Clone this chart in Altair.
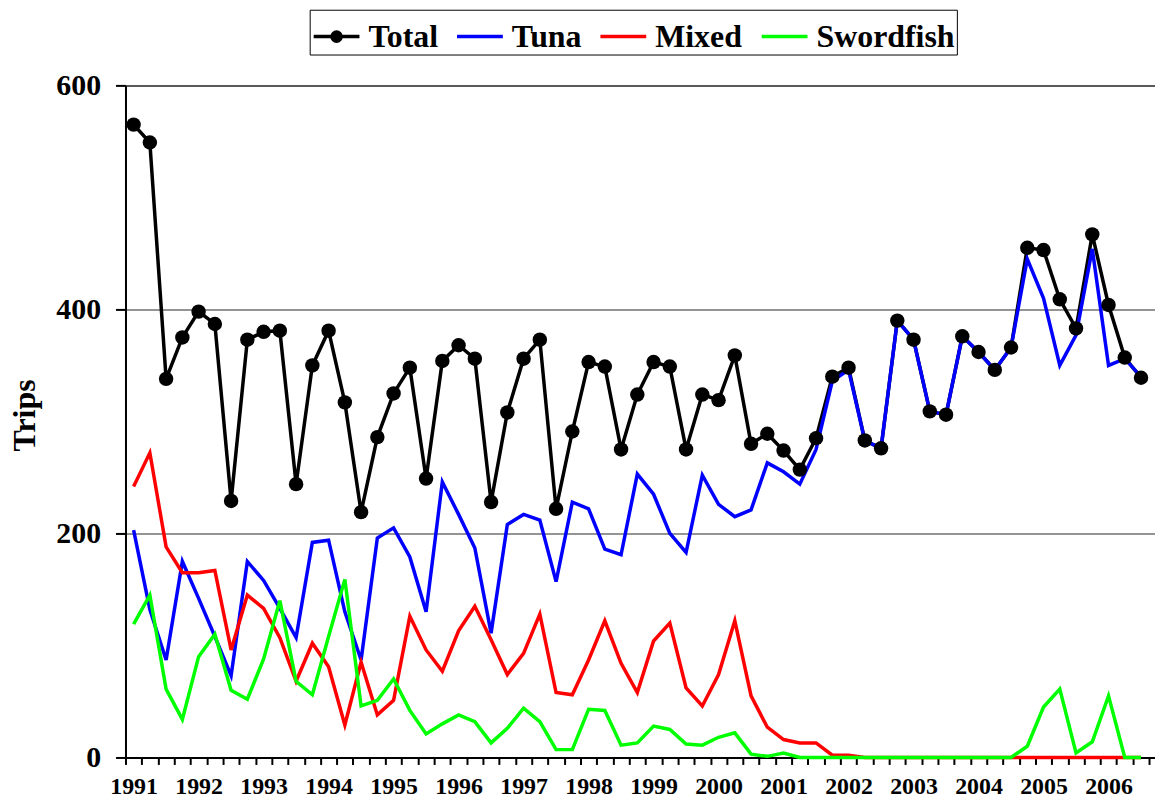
import altair as alt
import pandas as pd

# ---- data (quarterly, 1991 Q1 .. 2006 Q3) ----
years = ["1991", "1992", "1993", "1994", "1995", "1996", "1997", "1998",
         "1999", "2000", "2001", "2002", "2003", "2004", "2005", "2006"]

total = [565, 549, 338, 375, 398, 387, 229, 373, 380, 381, 244, 350,
         381, 317, 219, 286, 325, 348, 249, 354, 368, 356, 228, 308,
         356, 373, 222, 291, 353, 349, 275, 324, 353, 349, 275, 324,
         319, 359, 280, 289, 274, 257, 285, 340, 348, 283, 276, 390,
         373, 309, 306, 376, 362, 346, 366, 455, 453, 409, 383, 467,
         404, 357, 339]

tuna = [203, 132, 87, 175, 142, 108, 73, 175, 158, 133, 107, 192,
        194, 130, 87, 196, 205, 179, 130, 246, 217, 187, 111, 208,
        217, 212, 157, 228, 222, 186, 181, 253, 235, 200, 183, 252,
        226, 215, 221, 263, 255, 244, 275, 336, 346, 283, 276, 390,
        373, 309, 306, 376, 362, 346, 366, 445, 410, 350, 377, 454,
        350, 356, 340]

mixed = [242, 272, 188, 165, 165, 167, 96, 145, 133, 107, 68, 102,
         81, 29, 85, 38, 51, 126, 96, 77, 113, 135, 105, 74,
         93, 128, 58, 56, 87, 122, 84, 58, 104, 120, 62, 46,
         74, 122, 55, 27, 16, 13, 13, 2, 2, 0, 0, 0,
         0, 0, 0, 0, 0, 0, 0, 0, 0, 0, 0, 0,
         0, 0, 0]

swordfish = [119, 145, 61, 34, 90, 110, 60, 52, 88, 140, 68, 56,
             108, 159, 46, 51, 70, 42, 21, 30, 38, 32, 13, 26,
             44, 32, 7, 7, 43, 42, 11, 13, 28, 25, 12, 11,
             18, 22, 3, 1, 4, 0, 0, 0, 0, 0, 0, 0,
             0, 0, 0, 0, 0, 0, 0, 10, 45, 61, 4, 14,
             55, 0, 0]

series_names = ["Total", "Tuna", "Mixed", "Swordfish"]
series_colors = ["#000000", "#0000ff", "#ff0000", "#00ff00"]
y_ticks = [0, 200, 400, 600]

rows = []
for name, vals in zip(series_names, [total, tuna, mixed, swordfish]):
    for i, v in enumerate(vals):
        rows.append({"q": i, "series": name, "trips": v})
df = pd.DataFrame(rows)

n_q = len(total)
boundaries = [k - 0.5 for k in range(n_q + 1)]
year_arr = "[" + ",".join("'%s'" % y for y in years) + "]"
label_expr = ("((datum.value + 0.5) % 4 == 0) ? " + year_arr +
              "[(datum.value + 0.5) / 4] : ''")

FONT = "Liberation Serif"

x_enc = alt.X(
    "q:Q",
    scale=alt.Scale(domain=[-0.5, n_q - 0.14], nice=False, zero=False),
    axis=alt.Axis(
        values=boundaries, labelExpr=label_expr, title=None, grid=False,
        labelFont=FONT, labelFontSize=24, labelFontWeight="bold",
        labelColor="black", labelOffset=8.16, labelFlush=False,
        labelOverlap=False, labelPadding=10, labelBaseline="top",
        tickColor="black", tickSize=7, tickWidth=2,
        domainColor="black", domainWidth=2,
    ),
)

y_enc = alt.Y(
    "trips:Q",
    scale=alt.Scale(domain=[0, 600], nice=False),
    axis=alt.Axis(
        values=y_ticks, title="Trips", grid=True,
        gridColor={"condition": {"test": "datum.value === 600", "value": "#222222"},
                   "value": "#707070"},
        gridWidth=1.5,
        labelFont=FONT, labelFontSize=30, labelFontWeight="bold",
        labelColor="black", labelPadding=15,
        tickColor="black", tickSize=10, tickWidth=2,
        domainColor="black", domainWidth=2,
        titleFont=FONT, titleFontSize=32, titleFontWeight="bold",
        titleColor="black", titleX=-101, titleY=331, titleAngle=270,
        titleAlign="center", titleBaseline="middle",
    ),
)

# legend symbol shapes: a short line; for Total a line with a disc
# (disc made of concentric rings so a stroked symbol looks filled)
line_path = "M-1,0H1"
rings = "".join(
    "M-%g,0A%g,%g,0,1,1,%g,0A%g,%g,0,1,1,-%g,0" % (r, r, r, r, r, r, r)
    for r in (0.04, 0.09, 0.14, 0.2)
)
total_path = line_path + rings
shape_range = [total_path] + [line_path] * (len(series_names) - 1)

color_scale = alt.Scale(domain=series_names, range=series_colors)
shape_scale = alt.Scale(domain=series_names, range=shape_range)

legend = alt.Legend(
    title=None, orient="none", legendX=185, legendY=-76,
    direction="horizontal", columns=len(series_names),
    symbolSize=2116, symbolStrokeWidth=3.5, symbolOpacity=1,
    symbolFillColor="transparent",
    labelFont=FONT, labelFontSize=32, labelFontWeight="bold",
    labelColor="black", labelOffset=7, labelLimit=400,
    columnPadding=12, padding=2, strokeColor="black",
)

layers = []
for name, col in zip(series_names, series_colors):
    layers.append(
        alt.Chart(df).transform_filter(alt.datum.series == name)
        .mark_line(strokeWidth=3.5, strokeJoin="miter", color=col)
        .encode(x=x_enc, y=y_enc)
    )

points = (
    alt.Chart(df).transform_filter(alt.datum.series == series_names[0])
    .mark_point(filled=True, size=210, opacity=1, color=series_colors[0])
    .encode(x=x_enc, y=y_enc)
)

# legend carrier: its marks are hidden, its scales give the legend entries
legend_layer = (
    alt.Chart(df)
    .mark_point(filled=False, strokeWidth=3.5, size=2116, clip=True, opacity=1)
    .encode(
        x=x_enc,
        y=alt.Y("trips:Q", scale=alt.Scale(domain=[0, 600], nice=False)),
        color=alt.Color("series:N", scale=color_scale, legend=legend),
        shape=alt.Shape("series:N", scale=shape_scale, legend=legend),
        size=alt.value(0),
    )
)

chart = (
    alt.layer(*layers, points, legend_layer)
    .properties(
        width=1034, height=675,
        padding={"left": 118, "top": 76, "right": 0, "bottom": 44},
        autosize=alt.AutoSizeParams(type="none"),
        background="white",
    )
    .configure_view(stroke=None)
)

chart.save("out.html", embed_options={"renderer": "svg", "actions": False})
